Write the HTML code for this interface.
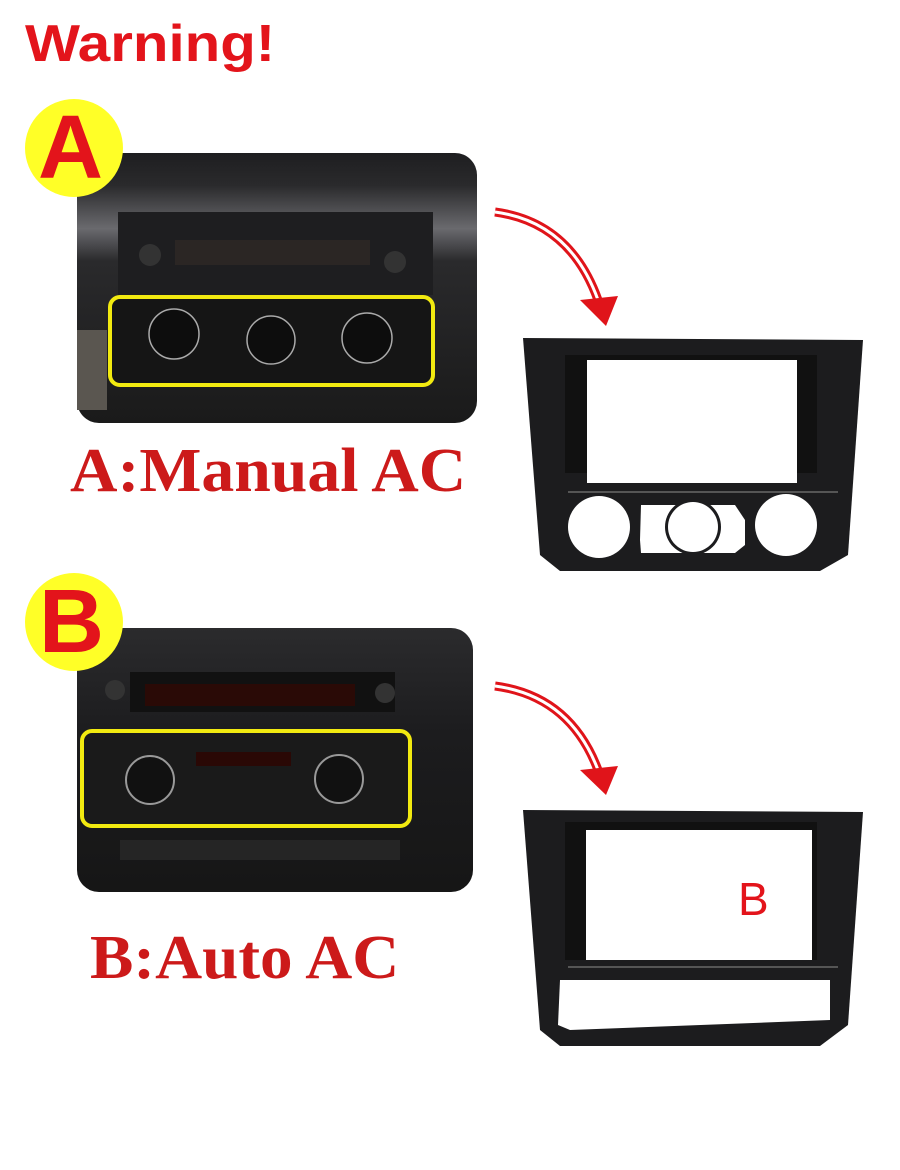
<!DOCTYPE html>
<html><head><meta charset="utf-8"><style>
html,body{margin:0;padding:0;background:#fff;}
body{width:900px;height:1170px;position:relative;overflow:hidden;font-family:"Liberation Sans",sans-serif;}
.t{position:absolute;white-space:nowrap;transform-origin:0 0;}
</style></head><body>
<svg width="900" height="1170" style="position:absolute;left:0;top:0">
<defs>
<linearGradient id="pa" x1="0" y1="0" x2="0" y2="1">
<stop offset="0" stop-color="#1e1e20"/><stop offset="0.12" stop-color="#2a2a2c"/><stop offset="0.28" stop-color="#6a6a6e"/><stop offset="0.4" stop-color="#2a2a2c"/><stop offset="1" stop-color="#1a1a1a"/></linearGradient>
<linearGradient id="pb" x1="0" y1="0" x2="0" y2="1">
<stop offset="0" stop-color="#2b2b2d"/><stop offset="0.4" stop-color="#1c1c1e"/><stop offset="1" stop-color="#161616"/></linearGradient>
</defs>
<!-- Photo A -->
<rect x="77" y="153" width="400" height="270" rx="22" fill="url(#pa)"/>
<rect x="118" y="212" width="315" height="83" fill="#1e1e20"/>
<rect x="175" y="240" width="195" height="25" fill="#2b2624"/>
<circle cx="150" cy="255" r="11" fill="#333"/><circle cx="395" cy="262" r="11" fill="#333"/>
<rect x="77" y="330" width="30" height="80" fill="#5a5650"/>
<rect x="110" y="297" width="323" height="88" rx="10" fill="#151515" stroke="#f2ea10" stroke-width="4"/>
<circle cx="174" cy="334" r="25" fill="#0d0d0d" stroke="#aaa" stroke-width="1.5"/>
<circle cx="271" cy="340" r="24" fill="#0d0d0d" stroke="#aaa" stroke-width="1.5"/>
<circle cx="367" cy="338" r="25" fill="#0d0d0d" stroke="#aaa" stroke-width="1.5"/>
<!-- Circle A -->
<circle cx="74" cy="148" r="49" fill="#ffff27"/>
<!-- Photo B -->
<rect x="77" y="628" width="396" height="264" rx="22" fill="url(#pb)"/>
<rect x="130" y="672" width="265" height="40" fill="#111"/>
<rect x="145" y="684" width="210" height="22" fill="#2a0a06"/>
<circle cx="115" cy="690" r="10" fill="#333"/><circle cx="385" cy="693" r="10" fill="#333"/>
<rect x="82" y="731" width="328" height="95" rx="10" fill="#1a1a1a" stroke="#f2ea10" stroke-width="4"/>
<circle cx="150" cy="780" r="24" fill="#111" stroke="#999" stroke-width="2"/>
<circle cx="339" cy="779" r="24" fill="#111" stroke="#999" stroke-width="2"/>
<rect x="196" y="752" width="95" height="14" fill="#2a0805"/>
<rect x="120" y="840" width="280" height="20" fill="#252525"/>
<!-- Circle B -->
<circle cx="74" cy="622" r="49" fill="#ffff27"/>
<!-- Arrows -->
<path d="M495 212 Q570 222 598 300" fill="none" stroke="#e0141a" stroke-width="9"/>
<path d="M495 212 Q570 222 598 300" fill="none" stroke="#fff" stroke-width="3"/>
<polygon points="580,300 618,296 606,326" fill="#e0141a"/>
<path d="M495 686 Q570 696 598 770" fill="none" stroke="#e0141a" stroke-width="9"/>
<path d="M495 686 Q570 696 598 770" fill="none" stroke="#fff" stroke-width="3"/>
<polygon points="580,770 618,766 606,795" fill="#e0141a"/>
<!-- Frame A -->
<path d="M523 338 L863 340 L848 555 L820 571 L560 571 L540 555 Z" fill="#1c1c1e"/>
<rect x="565" y="355" width="252" height="118" fill="#111"/>
<rect x="587" y="360" width="210" height="123" fill="#fff"/>
<rect x="568" y="491" width="270" height="2" fill="#555"/>
<circle cx="599" cy="527" r="31" fill="#fff"/>
<path d="M641 505 L735 505 L745 520 L745 545 L735 553 L641 553 L640 540 Z" fill="#fff"/>
<circle cx="693" cy="527" r="28" fill="#1c1c1e"/>
<circle cx="693" cy="527" r="25" fill="#fff"/>
<circle cx="786" cy="525" r="31" fill="#fff"/>
<!-- Frame B -->
<path d="M523 810 L863 812 L848 1025 L820 1046 L560 1046 L540 1030 Z" fill="#1c1c1e"/>
<rect x="565" y="822" width="252" height="138" fill="#111"/>
<rect x="586" y="830" width="226" height="130" fill="#fff"/>
<rect x="568" y="966" width="270" height="2" fill="#555"/>
<path d="M560 980 L830 980 L830 1020 L570 1030 L558 1025 Z" fill="#fff"/>
</svg>
<div class="t" style="left:25px;top:14px;font-size:52px;font-weight:bold;color:#e3141b;transform:scaleX(1.12);">Warning!</div>
<div class="t" style="left:38px;top:100px;font-size:90px;font-weight:bold;color:#e3141b;line-height:96px;">A</div>
<div class="t" style="left:39px;top:574px;font-size:90px;font-weight:bold;color:#e3141b;line-height:96px;">B</div>
<div class="t" style="left:70px;top:436px;font-family:'Liberation Serif',serif;font-weight:bold;font-size:62px;color:#cc1a1a;line-height:70px;transform:scaleX(1.06);">A:Manual AC</div>
<div class="t" style="left:90px;top:923px;font-family:'Liberation Serif',serif;font-weight:bold;font-size:62px;color:#cc1a1a;line-height:70px;transform:scaleX(1.05);">B:Auto AC</div>
<div class="t" style="left:738px;top:872px;font-size:46px;color:#e3141b;">B</div>
</body></html>
